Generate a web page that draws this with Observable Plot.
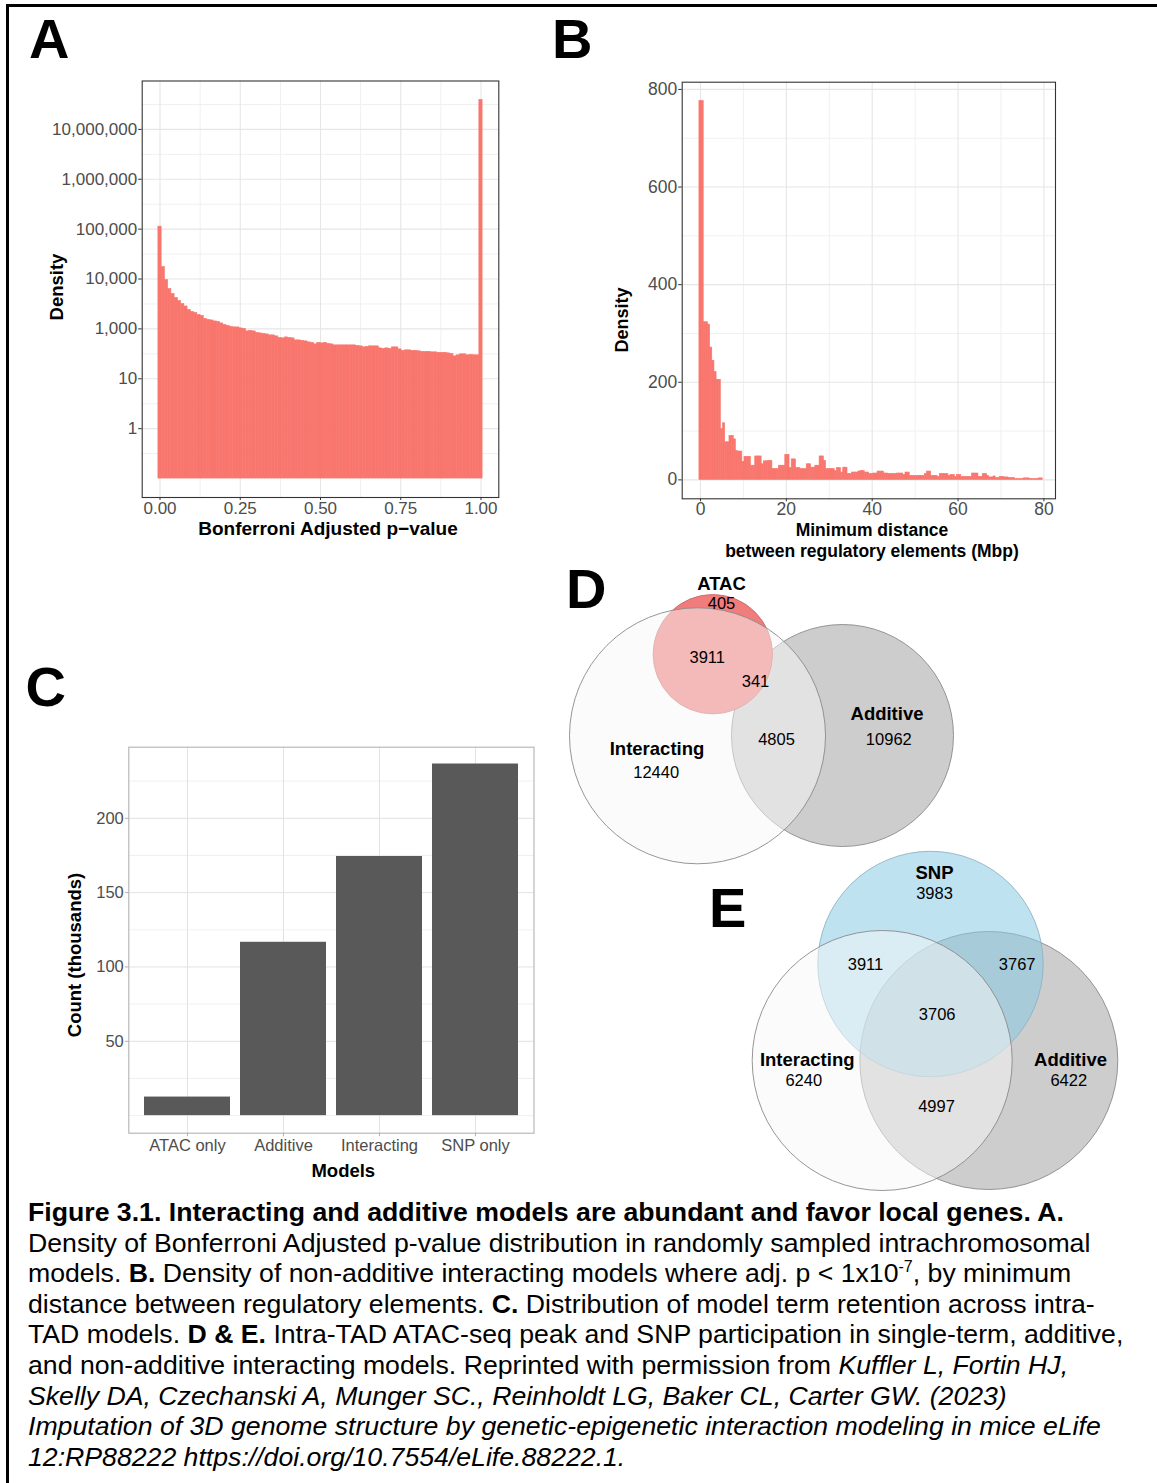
<!DOCTYPE html>
<html>
<head>
<meta charset="utf-8">
<script src="https://cdn.jsdelivr.net/npm/d3@7"></script>
<script src="https://cdn.jsdelivr.net/npm/@observablehq/plot@0.6"></script>
<style>
  html, body { margin: 0; padding: 0; background: #fff; }
  body { font-family: "Liberation Sans", Arial, sans-serif; }
  #page { position: relative; width: 1157px; height: 1483px; overflow: hidden; background: #fff; }
  #border { position: absolute; left: 6px; top: 4px; width: 1300px; height: 1700px; border: 3px solid #000; box-sizing: border-box; }
  .letter { position: absolute; font-weight: bold; font-size: 56px; line-height: 1; color: #000; }
  .atitle { position: absolute; font-weight: bold; color: #000; white-space: nowrap; transform: translate(-50%, -50%); text-align: center; line-height: 1; }
  .ytitle { transform: translate(-50%, -50%) rotate(-90deg); }
  #caption { position: absolute; left: 28px; top: 1197px; font-size: 24px; line-height: 30.6px; color: #000; }
  #caption div { white-space: nowrap; }
  #caption sup { font-size: 0.6em; line-height: 0; vertical-align: 0.65em; }
</style>
</head>
<body>
<div id="page">
  <div id="border"></div>
</div>
<script>
// ---------------- DATA ----------------
// Panel A: histogram of Bonferroni adjusted p-values (100 bins over 0..1).
// Heights are read in the axis' own tick units: 0 = "1", 1 = "10", 2 = "1,000", 3 = "10,000", ...
const pvalLevels = [
  4.05, 3.24, 2.98, 2.80, 2.70, 2.62, 2.56, 2.50, 2.45, 2.38,
  2.34, 2.32, 2.28, 2.26, 2.20, 2.18, 2.17, 2.15, 2.14, 2.11,
  2.08, 2.06, 2.04, 2.03, 2.03, 2.01, 2.00, 1.95, 1.96, 1.95,
  1.92, 1.91, 1.90, 1.89, 1.87, 1.87, 1.85, 1.82, 1.81, 1.83,
  1.82, 1.81, 1.77, 1.77, 1.76, 1.75, 1.73, 1.72, 1.69, 1.72,
  1.71, 1.72, 1.70, 1.69, 1.67, 1.67, 1.67, 1.67, 1.67, 1.67,
  1.67, 1.66, 1.65, 1.63, 1.64, 1.65, 1.65, 1.65, 1.61, 1.60,
  1.61, 1.60, 1.63, 1.63, 1.59, 1.56, 1.57, 1.57, 1.56, 1.56,
  1.55, 1.54, 1.54, 1.54, 1.53, 1.53, 1.52, 1.52, 1.52, 1.51,
  1.50, 1.45, 1.47, 1.49, 1.49, 1.47, 1.48, 1.47, 1.47, 6.59
];
const pvalTickLabels = ["1", "10", "1,000", "10,000", "100,000", "1,000,000", "10,000,000"];
const pvalXTicks = [0, 0.25, 0.5, 0.75, 1];

// Panel B: density of interacting models by minimum distance (0.5 Mbp bins, 0..80 Mbp)
const distDensity = [
  776, 776, 323, 323, 318, 271, 244, 221, 205, 205,
  104, 116, 77, 77, 90, 90, 83, 59, 58, 58,
  37, 47, 47, 47, 29, 29, 48, 48, 48, 32,
  38, 38, 39, 39, 22, 22, 22, 29, 29, 29,
  51, 51, 24, 42, 42, 24, 24, 22, 22, 22,
  32, 32, 25, 25, 29, 29, 48, 48, 39, 22,
  22, 22, 22, 18, 24, 24, 15, 25, 25, 12,
  12, 15, 15, 15, 17, 18, 18, 15, 15, 12,
  12, 13, 13, 17, 17, 17, 13, 13, 12, 12,
  12, 12, 13, 13, 13, 10, 15, 15, 8, 8,
  8, 8, 8, 8, 8, 12, 17, 17, 8, 8,
  8, 6, 12, 12, 12, 12, 8, 10, 10, 6,
  10, 10, 6, 6, 6, 6, 6, 13, 13, 13,
  6, 6, 12, 12, 8, 5, 5, 7, 3.5, 3.5,
  6, 6, 5, 5, 3.5, 3.5, 3.5, 1.5, 1.5, 1.5,
  1.5, 3, 3, 3, 1.5, 1.5, 1.5, 1.5, 3, 3
];
const distBinWidth = 0.5;
const distXTicks = [0, 20, 40, 60, 80];
const distYTicks = [0, 200, 400, 600, 800];

// Panel C: model term retention (thousands)
const models = ["ATAC only", "Additive", "Interacting", "SNP only"];
const modelCounts = [12.5, 116.6, 174.3, 236.5];
const countTicks = [50, 100, 150, 200];

// Panel D: Venn of ATAC / Interacting / Additive
const vennDSets = ["ATAC", "Interacting", "Additive"];
const vennDRegions = ["ATAC only", "ATAC & Interacting", "ATAC & Interacting & Additive", "Interacting only", "Interacting & Additive", "Additive only"];
const vennDCounts = [405, 3911, 341, 12440, 4805, 10962];

// Panel E: Venn of SNP / Interacting / Additive
const vennESets = ["SNP", "Interacting", "Additive"];
const vennERegions = ["SNP only", "SNP & Interacting", "SNP & Additive", "SNP & Interacting & Additive", "Interacting only", "Additive only", "Interacting & Additive"];
const vennECounts = [3983, 3911, 3767, 3706, 6240, 6422, 4997];

// Venn layout (page-pixel frame of the diagram canvas)
const vennDCircleLayout = [
  {set: "Additive", cx: 842, cy: 735, r: 111},
  {set: "ATAC", cx: 712.3, cy: 653.7, r: 59.7},
  {set: "Interacting", cx: 697, cy: 735.3, r: 128}
];
const vennDSetLabelPos = [[721, 584], [656.5, 749], [886.5, 714]];
const vennDCountPos = [[721, 603.3], [706.7, 657.3], [755, 681.7], [655.7, 772.3], [776, 739.3], [888.3, 739.3]];

const vennECircleLayout = [
  {set: "Additive", cx: 988.3, cy: 1060, r: 129},
  {set: "SNP", cx: 930, cy: 963.5, r: 112.7},
  {set: "Interacting", cx: 881.7, cy: 1060, r: 130}
];
const vennESetLabelPos = [[934, 872.5], [806.7, 1059.3], [1070, 1059.3]];
const vennECountPos = [[934, 893.3], [865, 964], [1016.7, 964], [936.7, 1014], [803.3, 1080], [1068.3, 1080], [936, 1106.7]];

// ---------------- STYLE ----------------
const FONT = "'Liberation Sans', Arial, Helvetica, sans-serif";
const RED = "#F8766D";
const setStyle = {
  ATAC:        {fill: "#f07c7c", opacity: 1, stroke: "#c96a6a"},
  Additive:    {fill: "#cdcdcd", opacity: 1, stroke: "#8a8a8a"},
  Interacting: {fill: "#f7f7f7", opacity: 0.5, stroke: "#8a8a8a"},
  SNP:         {fill: "#8bcae4", opacity: 0.55, stroke: "#8fb3c3"}
};

const page = document.getElementById("page");
function place(node, left, top) {
  node.style.position = "absolute";
  node.style.left = left + "px";
  node.style.top = top + "px";
  page.appendChild(node);
}
function margins(box) {
  return {
    width: box.width, height: box.height,
    marginLeft: box.fx0 - box.left, marginRight: box.left + box.width - box.fx1,
    marginTop: box.fy0 - box.top, marginBottom: box.top + box.height - box.fy1
  };
}
const baseStyle = {fontFamily: FONT, background: "transparent", overflow: "visible"};

// ---------------- PANEL A ----------------
{
  const box = {left: 20, top: 70, width: 500, height: 470, fx0: 141.7, fx1: 498.3, fy0: 80.5, fy1: 497};
  const n = pvalLevels.length;
  const levels = d3.range(pvalTickLabels.length);
  const minorY = [-0.5, ...levels.map(l => l + 0.5)];
  const svg = Plot.plot({
    ...margins(box),
    style: {...baseStyle, fontSize: "17px"},
    x: {domain: [-0.0555, 1.0555]},
    y: {domain: [-1.38, 6.97]},
    marks: [
      Plot.gridX([0.125, 0.375, 0.625, 0.875], {stroke: "#f0f0f0", strokeOpacity: 1, strokeWidth: 1}),
      Plot.gridY(minorY, {stroke: "#f0f0f0", strokeOpacity: 1, strokeWidth: 1}),
      Plot.gridX(pvalXTicks, {stroke: "#e6e6e6", strokeOpacity: 1, strokeWidth: 1.1}),
      Plot.gridY(levels, {stroke: "#e6e6e6", strokeOpacity: 1, strokeWidth: 1.1}),
      Plot.rect(pvalLevels, {
        x1: (d, i) => (i - 0.5) / (n - 1), x2: (d, i) => (i + 0.5) / (n - 1),
        y1: -1, y2: d => d, fill: RED, stroke: RED, strokeWidth: 0.6
      }),
      Plot.frame({stroke: "#333333", strokeWidth: 1.1}),
      Plot.axisX({ticks: pvalXTicks, tickFormat: d => d.toFixed(2), tickSize: 3, tickPadding: 1, stroke: "#333", fill: "#4d4d4d", fontSize: 17, label: null}),
      Plot.axisY({ticks: levels, tickFormat: d => pvalTickLabels[d], tickSize: 3.5, tickPadding: 1.5, stroke: "#333", fill: "#4d4d4d", fontSize: 17, label: null})
    ]
  });
  place(svg, box.left, box.top);
}

// ---------------- PANEL B ----------------
{
  const box = {left: 590, top: 70, width: 490, height: 465, fx0: 681.7, fx1: 1055, fy0: 81.7, fy1: 498.3};
  const svg = Plot.plot({
    ...margins(box),
    style: {...baseStyle, fontSize: "17px"},
    x: {domain: [-4.26, 82.7]},
    y: {domain: [-38.8, 814.8]},
    marks: [
      Plot.gridX([10, 30, 50, 70], {stroke: "#f0f0f0", strokeOpacity: 1, strokeWidth: 1}),
      Plot.gridY([100, 300, 500, 700], {stroke: "#f0f0f0", strokeOpacity: 1, strokeWidth: 1}),
      Plot.gridX(distXTicks, {stroke: "#e6e6e6", strokeOpacity: 1, strokeWidth: 1.1}),
      Plot.gridY(distYTicks, {stroke: "#e6e6e6", strokeOpacity: 1, strokeWidth: 1.1}),
      Plot.rect(distDensity, {
        x1: (d, i) => i * distBinWidth - distBinWidth / 2, x2: (d, i) => i * distBinWidth + distBinWidth / 2,
        y1: 0, y2: d => d, fill: RED, stroke: RED, strokeWidth: 0.6
      }),
      Plot.frame({stroke: "#333333", strokeWidth: 1.1}),
      Plot.axisX({ticks: distXTicks, tickSize: 3, tickPadding: 1, stroke: "#333", fill: "#4d4d4d", fontSize: 17.5, label: null}),
      Plot.axisY({ticks: distYTicks, tickSize: 3.5, tickPadding: 1.5, stroke: "#333", fill: "#4d4d4d", fontSize: 17.5, label: null})
    ]
  });
  place(svg, box.left, box.top);
}

// ---------------- PANEL C ----------------
{
  const box = {left: 70, top: 736, width: 480, height: 432, fx0: 128.3, fx1: 533.5, fy0: 746.7, fy1: 1132.7};
  const svg = Plot.plot({
    ...margins(box),
    style: {...baseStyle, fontSize: "16.5px"},
    x: {type: "band", domain: models, paddingInner: 0.1, paddingOuter: 0.154, align: 0.5},
    y: {domain: [-11.8, 247.8]},
    marks: [
      Plot.gridY([0, 25, 75, 125, 175, 225], {stroke: "#ececec", strokeOpacity: 1, strokeWidth: 0.8}),
      Plot.gridY(countTicks, {stroke: "#e2e2e2", strokeOpacity: 1, strokeWidth: 1}),
      Plot.gridX(models, {stroke: "#e2e2e2", strokeOpacity: 1, strokeWidth: 1}),
      Plot.barY(models, {x: d => d, y: (d, i) => modelCounts[i], fill: "#595959"}),
      Plot.frame({stroke: "#b3b3b3", strokeWidth: 1.1}),
      Plot.axisX({tickSize: 3.5, tickPadding: 2.5, stroke: "#b3b3b3", fill: "#4d4d4d", fontSize: 16.5, label: null}),
      Plot.axisY({ticks: countTicks, tickSize: 3.5, tickPadding: 1.5, stroke: "#b3b3b3", fill: "#4d4d4d", fontSize: 16.5, label: null})
    ]
  });
  place(svg, box.left, box.top);
}

// ---------------- PANELS D & E (Venn) ----------------
{
  const vx0 = 560, vy0 = 565, vw = 597, vh = 630;
  const circleMarks = [];
  for (const layout of [vennDCircleLayout, vennECircleLayout]) {
    for (const c of layout) {
      const s = setStyle[c.set];
      circleMarks.push(Plot.dot([c], {x: "cx", y: "cy", r: c.r, fill: s.fill, fillOpacity: s.opacity, stroke: s.stroke, strokeWidth: 0.9}));
    }
  }
  const setLabels = [
    ...vennDSets.map((s, i) => ({text: s, x: vennDSetLabelPos[i][0], y: vennDSetLabelPos[i][1]})),
    ...vennESets.map((s, i) => ({text: s, x: vennESetLabelPos[i][0], y: vennESetLabelPos[i][1]}))
  ];
  const countLabels = [
    ...vennDCounts.map((c, i) => ({region: vennDRegions[i], text: String(c), x: vennDCountPos[i][0], y: vennDCountPos[i][1]})),
    ...vennECounts.map((c, i) => ({region: vennERegions[i], text: String(c), x: vennECountPos[i][0], y: vennECountPos[i][1]}))
  ];
  const svg = Plot.plot({
    width: vw, height: vh, marginLeft: 0, marginRight: 0, marginTop: 0, marginBottom: 0,
    style: {...baseStyle},
    x: {domain: [vx0, vx0 + vw], range: [0, vw], axis: null},
    y: {domain: [vy0, vy0 + vh], range: [0, vh], axis: null},
    marks: [
      ...circleMarks,
      Plot.text(setLabels, {x: "x", y: "y", text: "text", fontWeight: "bold", fontSize: 18.5, fill: "#000"}),
      Plot.text(countLabels, {x: "x", y: "y", text: "text", fontSize: 16.5, fill: "#000"})
    ]
  });
  place(svg, vx0, vy0);
}

// ---------------- TEXT: titles, letters, caption ----------------
function addTitle(html, cx, cy, size, rotate) {
  const d = document.createElement("div");
  d.className = "atitle" + (rotate ? " ytitle" : "");
  d.innerHTML = html;
  d.style.left = cx + "px";
  d.style.top = cy + "px";
  d.style.fontSize = size + "px";
  page.appendChild(d);
  return d;
}
addTitle("Density", 57, 287, 18.5, true);
addTitle("Bonferroni Adjusted p\u2212value", 328, 527.5, 19);
addTitle("Density", 622, 320, 18, true);
const bt = addTitle("Minimum distance<br>between regulatory elements (Mbp)", 872, 540.5, 17.5);
bt.style.lineHeight = "21px";
addTitle("Count (thousands)", 75, 954.5, 18.5, true);
addTitle("Models", 343.3, 1170.5, 18.5);

const letters = [["A", 29, 10.7], ["B", 552, 10.7], ["C", 25.5, 658.7], ["D", 566, 560.7], ["E", 709, 880]];
for (const [t, x, y] of letters) {
  const d = document.createElement("div");
  d.className = "letter";
  d.textContent = t;
  d.style.left = x + "px";
  d.style.top = y + "px";
  page.appendChild(d);
}

const captionLines = [
  "<b>Figure 3.1. Interacting and additive models are abundant and favor local genes. A.</b>",
  "<span id='calib'>Density of Bonferroni Adjusted p-value distribution in randomly sampled intrachromosomal</span>",
  "models. <b>B.</b> Density of non-additive interacting models where adj. p &lt; 1x10<sup>-7</sup>, by minimum",
  "distance between regulatory elements. <b>C.</b> Distribution of model term retention across intra-",
  "TAD models. <b>D &amp; E.</b> Intra-TAD ATAC-seq peak and SNP participation in single-term, additive,",
  "and non-additive interacting models. Reprinted with permission from <i>Kuffler L, Fortin HJ,</i>",
  "<i>Skelly DA, Czechanski A, Munger SC., Reinholdt LG, Baker CL, Carter GW. (2023)</i>",
  "<i>Imputation of 3D genome structure by genetic-epigenetic interaction modeling in mice eLife</i>",
  "<i>12:RP88222 https://doi.org/10.7554/eLife.88222.1.</i>"
];
const cap = document.createElement("div");
cap.id = "caption";
cap.innerHTML = captionLines.map(l => "<div>" + l + "</div>").join("");
page.appendChild(cap);
const w = document.getElementById("calib").getBoundingClientRect().width;
if (w > 0) cap.style.fontSize = (24 * 1063 / w) + "px";
</script>
</body>
</html>
